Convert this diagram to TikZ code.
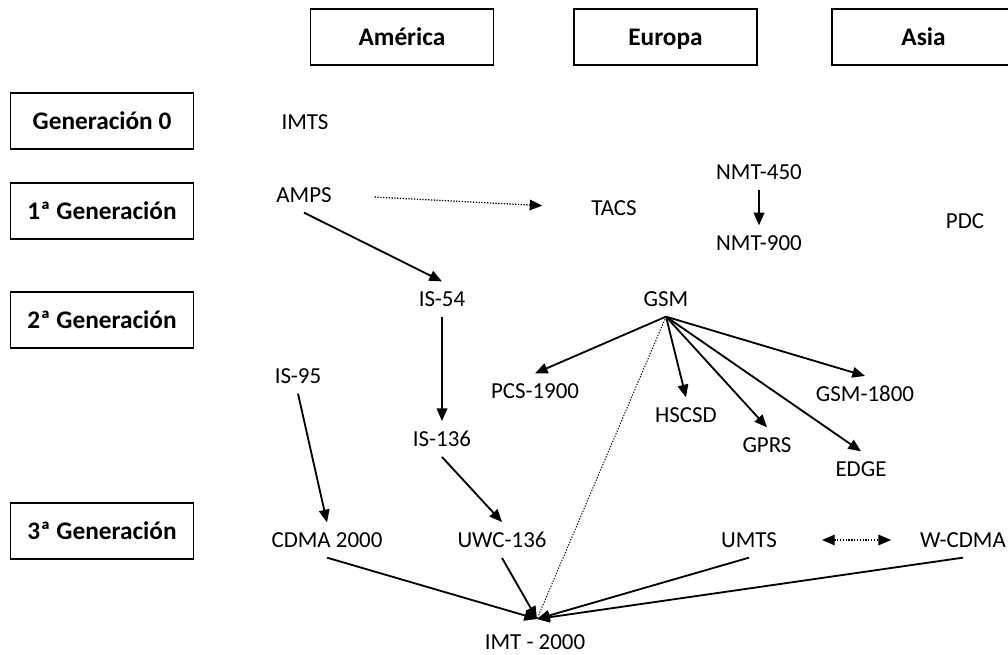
\documentclass[tikz,border=0pt]{standalone}
\usepackage{fontspec}
\setmainfont{Carlito}
\usetikzlibrary{arrows.meta}

\begin{document}
\begin{tikzpicture}[x=0.025cm, y=-0.025cm,
        region/.style={draw=black, line width=1.3pt, minimum width=4.575cm, minimum height=1.4cm, inner sep=0pt, text height=12.5pt, text depth=1pt, font=\fontsize{18}{20}\selectfont\bfseries},
        tech/.style={inner xsep=2pt, inner ysep=7pt, font=\fontsize{16.3}{18}\selectfont},
        evol/.style={->, >={Triangle[length=9pt, width=7.5pt]}, line width=1.3pt},
        link/.style={evol, line width=0.9pt, dash pattern=on 0.9pt off 1.1pt}
    ]
        \useasboundingbox (0,0) rectangle (1008,654);

        % Regions
        \node[region] (america) at (402, 37) {América};
        \node[region] (europa) at (665.5, 37) {Europa};
        \node[region] (asia) at (923.5, 37) {Asia};

        % Generations
        \node[region] (gen0) at (102, 121) {Generación 0};
        \node[region] (gen1) at (102, 211) {1ª Generación};
        \node[region] (gen2) at (102, 320) {2ª Generación};
        \node[region] (gen3) at (102, 531) {3ª Generación};

        % Systems
        \node[tech] (imts) at (305, 122) {IMTS};
        \node[tech] (amps) at (304, 195) {AMPS};
        \node[tech] (tacs) at (614, 208) {TACS};
        \node[tech] (nmt450) at (759, 172) {NMT-450};
        \node[tech] (nmt900) at (759, 243) {NMT-900};
        \node[tech] (pdc) at (965, 221) {PDC};
        \node[tech] (is54) at (442, 299) {IS-54};
        \node[tech] (gsm) at (666, 299) {GSM};
        \node[tech] (is95) at (298, 376) {IS-95};
        \node[tech] (pcs) at (535, 391) {PCS-1900};
        \node[tech] (hscsd) at (686, 415) {HSCSD};
        \node[tech] (gsm1800) at (865, 394) {GSM-1800};
        \node[tech] (is136) at (442, 439) {IS-136};
        \node[tech] (gprs) at (767, 445) {GPRS};
        \node[tech] (edge) at (861, 469) {EDGE};
        \node[tech] (cdma) at (327, 540) {CDMA 2000};
        \node[tech] (uwc) at (502, 540) {UWC-136};
        \node[tech] (umts) at (749, 540) {UMTS};
        \node[tech] (wcdma) at (963, 540) {W-CDMA};
        \node[tech] (imt) at (535, 642) {IMT - 2000};
        \coordinate (imtin) at (537, 619);

        % Edges
        \draw[link, shorten <=1.0cm, shorten >=1.15cm] (amps.east) -- (tacs.west);
        \draw[evol] (amps.south) -- (is54.north);
        \draw[evol] (nmt450) -- (nmt900);
        \draw[evol] (is54) -- (is136);
        \draw[evol] (is136.south) -- (uwc.north);
        \draw[evol] (is95.south) -- (cdma.north);
        \foreach \t in {pcs, hscsd, gprs, edge, gsm1800}
            \draw[evol] (gsm.south) -- (\t.north);
        \draw[link, -, line width=0.7pt] (gsm.south) -- (imtin);
        \foreach \s in {cdma, uwc, umts, wcdma}
            \draw[evol] (\s.south) -- (imtin);
        \draw[link, <->, shorten <=1.05cm, shorten >=0.65cm] (umts.east) -- (wcdma.west);

    \end{tikzpicture}
\end{document}
